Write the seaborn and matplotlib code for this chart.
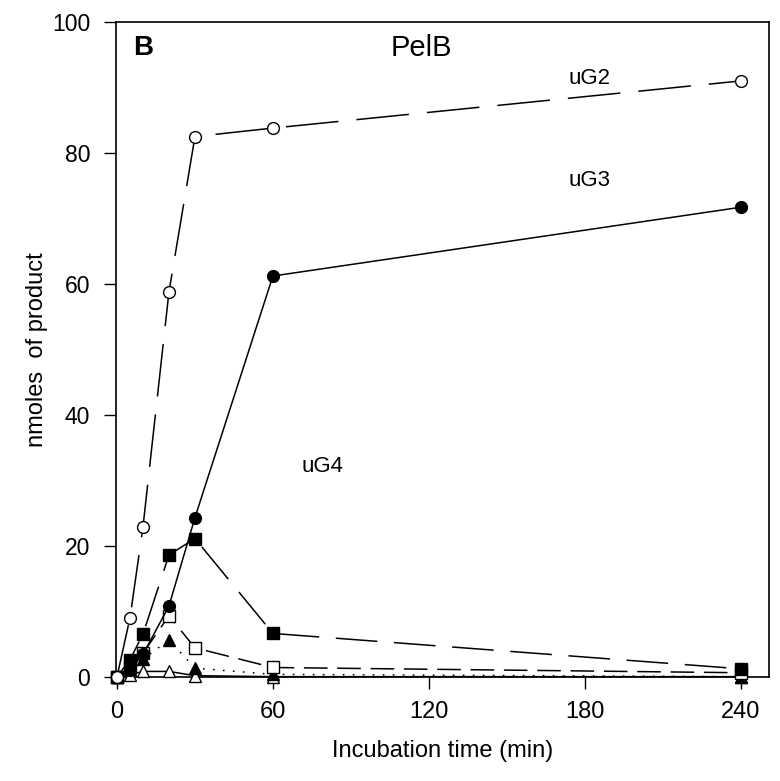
import numpy as np
import pandas as pd
import matplotlib
matplotlib.use("Agg")
import matplotlib.pyplot as plt
import seaborn as sns

sns.set_style("ticks")
plt.rcParams["font.family"] = ["Liberation Sans", "DejaVu Sans"]
plt.rcParams["lines.scale_dashes"] = False
plt.rcParams["text.color"] = "black"
plt.rcParams["axes.labelcolor"] = "black"
plt.rcParams["xtick.color"] = "black"
plt.rcParams["ytick.color"] = "black"

# incubation times (min)
time = [0, 5, 10, 20, 30, 60, 240]

# nmoles of product per series
ug2 = [0, 9.0, 22.9, 58.8, 82.5, 83.8, 91.0]
ug3 = [0, 1.0, 3.4, 10.8, 24.3, 61.2, 71.7]
ug4 = [0, 2.6, 6.5, 18.6, 21.1, 6.6, 1.2]
open_sq = [0, 1.5, 3.6, 9.3, 4.4, 1.4, 0.6]
filled_tri = [0, 1.2, 2.7, 5.6, 1.3, 0.35, 0]
open_tri = [0, 0.3, 0.8, 0.8, 0.15, 0, 0]

series = [
    # values, marker, face, line style
    (ug2, "o", "white", (0, (38, 13))),
    (ug3, "o", "black", "-"),
    (ug4, "s", "black", (0, (30, 12))),
    (open_sq, "s", "white", (0, (17, 7))),
    (filled_tri, "^", "black", (0, (1.2, 6))),
    (open_tri, "^", "white", "-"),
]

fig = plt.figure(figsize=(7.8, 7.81), dpi=100)
ax = fig.add_axes([0.1487, 0.1336, 0.8373, 0.8382])

for vals, mk, face, ls in series[::-1]:
    df = pd.DataFrame({"time": time, "value": vals})
    sns.lineplot(data=df, x="time", y="value", ax=ax, errorbar=None,
                 color="black", linewidth=1.1, linestyle=ls,
                 marker=mk, markersize=8.5 if mk != "^" else 9,
                 markerfacecolor=face, markeredgecolor="black",
                 markeredgewidth=1.0, clip_on=False, zorder=3)

ax.set_xlim(-0.4, 251)
ax.set_ylim(0, 100)
ax.set_xticks([0, 60, 120, 180, 240])
ax.set_yticks([0, 20, 40, 60, 80, 100])
ax.tick_params(axis="both", direction="out", length=8.5, width=1, color="black")
ax.tick_params(axis="y", labelsize=16.5, pad=10)
ax.tick_params(axis="x", labelsize=17, pad=9)
for s in ax.spines.values():
    s.set_visible(True)
    s.set_linewidth(1.2)
    s.set_color("black")

ax.set_xlabel("Incubation time (min)", fontsize=17, labelpad=12)
ax.set_ylabel("nmoles  of product", fontsize=17, labelpad=3)

ax.text(10, 96, "B", fontsize=20, fontweight="bold", ha="center", va="center")
ax.text(117, 96, "PelB", fontsize=21, ha="center", va="center")
ax.text(182, 91.4, "uG2", fontsize=16, ha="center", va="center")
ax.text(182, 75.8, "uG3", fontsize=16, ha="center", va="center")
ax.text(79, 32.1, "uG4", fontsize=16, ha="center", va="center")

fig.savefig("out.png", dpi=100)
